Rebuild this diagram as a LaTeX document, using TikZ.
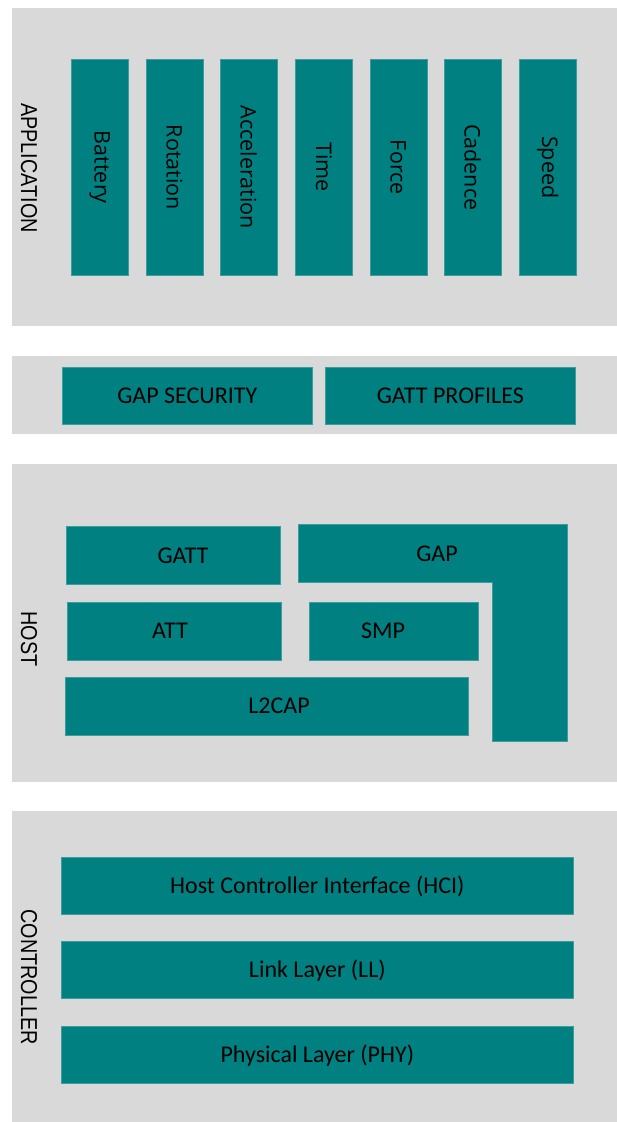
\documentclass[tikz,border=0pt]{standalone}
\usepackage{fontspec}
\usepackage{graphicx}
\setmainfont{Carlito}
\newfontfamily\barfont{Open Sans}
\newfontfamily\sidefont{Liberation Sans}
\definecolor{panelgrey}{HTML}{D9D9D9}
\definecolor{blockteal}{HTML}{008080}
\definecolor{blockedge}{HTML}{3A9E9E}
\tikzset{
  panel/.style={fill=panelgrey, draw=none},
  block/.style={fill=blockteal, draw=blockedge, line width=0.6pt, inner sep=0pt, anchor=north west},
  blocktext/.style={inner sep=0pt, text height=15.5pt, text depth=0pt, font=\fontsize{24}{28}\selectfont, text=black},
  bartext/.style={inner sep=0pt, rotate=-90, font=\barfont\fontsize{21.5}{25}\selectfont, text=black},
  sidetext/.style={inner sep=0pt, rotate=-90, font=\sidefont\fontsize{23}{27}\selectfont, text=black},
}
\newcommand{\sidelabel}[1]{\scalebox{0.86}[1]{#1}}
\begin{document}
\begin{tikzpicture}[x=1pt, y=-1pt]
  \useasboundingbox[fill=white] (0,0) rectangle (617,1122);

  % ---------- layer panels ----------
  \path[panel] (12,8)   rectangle (617,326);
  \path[panel] (12,356) rectangle (617,434);
  \path[panel] (12,464) rectangle (617,782);
  \path[panel] (12,811) rectangle (617,1122);

  % ---------- application ----------
  \node[sidetext] (applabel) at (29,168) {\sidelabel{APPLICATION}};
  \foreach \name/\txt/\x in {battery/Battery/71, rotation/Rotation/145.5,
      accel/Acceleration/220, time/Time/295, force/Force/369.5,
      cadence/Cadence/444, speed/Speed/519}{
    \node[block, minimum width=57pt, minimum height=216pt] (\name) at (\x,59) {};
    \node[bartext] (\name-t) at (\name.center) {\txt};
  }

  % ---------- profiles ----------
  \node[block, minimum width=250pt, minimum height=57pt] (gapsec) at (62,367) {};
  \node[blocktext] (gapsec-t) at (gapsec.center) {GAP SECURITY};
  \node[block, minimum width=250pt, minimum height=57pt] (gattprof) at (325,367) {};
  \node[blocktext] (gattprof-t) at (gattprof.center) {GATT PROFILES};

  % ---------- host ----------
  \node[sidetext] (hostlabel) at (29,639) {\sidelabel{HOST}};
  \node[block, minimum width=214pt, minimum height=58pt] (gatt) at (66,526) {};
  \node[blocktext] (gatt-t) at (183,556) {GATT};
  \node[block, minimum width=214pt, minimum height=58pt] (att) at (67,602) {};
  \node[blocktext] (att-t) at (170,631) {ATT};
  \node[block, minimum width=169pt, minimum height=58pt] (smp) at (309,602) {};
  \node[blocktext] (smp-t) at (383,631) {SMP};
  \node[block, minimum width=403pt, minimum height=58pt] (l2cap) at (65,677) {};
  \node[blocktext] (l2cap-t) at (279,706) {L2CAP};
  % GAP wraps round SMP and L2CAP as an L shape
  \path[fill=blockteal, draw=blockedge, line width=0.6pt]
    (298,524) -- (567,524) -- (567,741) -- (492,741) -- (492,582) -- (298,582) -- cycle;
  \node[blocktext] (gap-t) at (437,553.5) {GAP};

  % ---------- controller ----------
  \node[sidetext] (ctrllabel) at (29,977) {\sidelabel{CONTROLLER}};
  \node[block, minimum width=512pt, minimum height=57pt] (hci) at (61,857) {};
  \node[blocktext] (hci-t) at (hci.center) {Host Controller Interface (HCI)};
  \node[block, minimum width=512pt, minimum height=57pt] (ll) at (61,941) {};
  \node[blocktext] (ll-t) at (ll.center) {Link Layer (LL)};
  \node[block, minimum width=512pt, minimum height=57pt] (phy) at (61,1026) {};
  \node[blocktext] (phy-t) at (phy.center) {Physical Layer (PHY)};
\end{tikzpicture}
\end{document}
